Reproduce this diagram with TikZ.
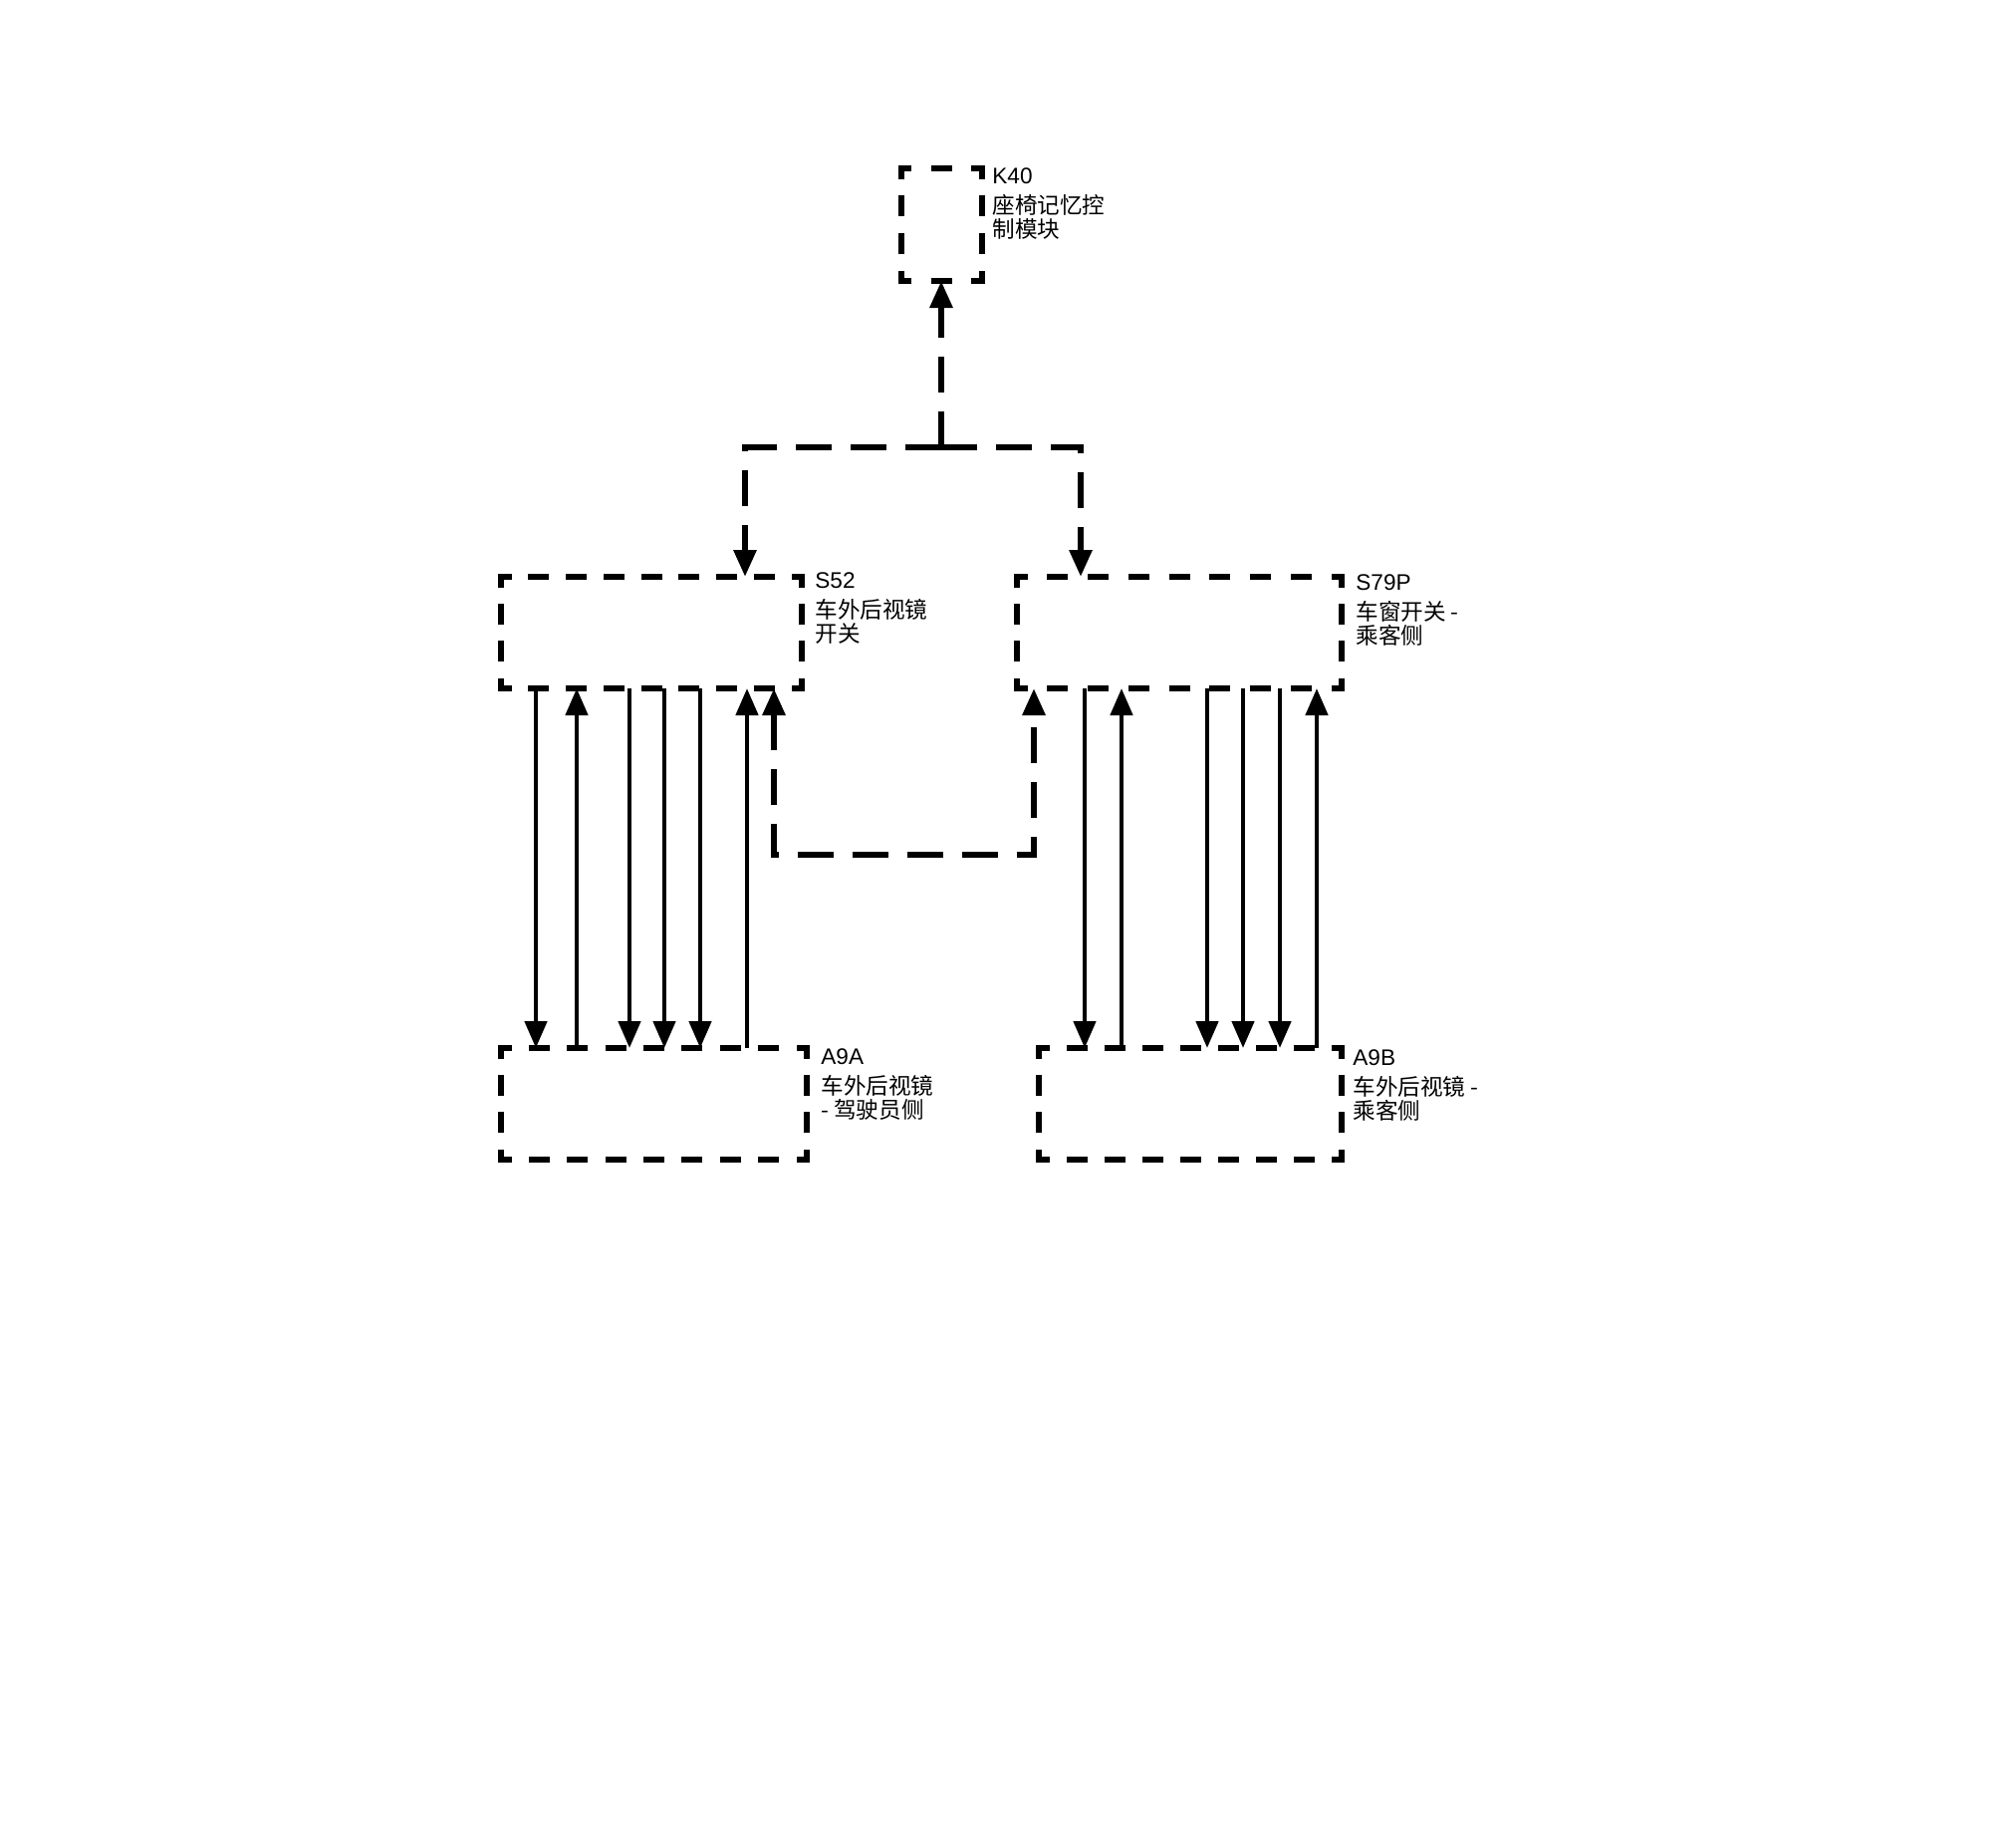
\documentclass[tikz,border=0pt]{standalone}
\usepackage{fontspec}
\setmainfont{Liberation Sans}
\newfontfamily\cjk{Noto Sans CJK SC}
\usetikzlibrary{arrows.meta}

% one dashed edge of a module outline: the dash period is fitted to the edge
% length so that both ends finish on half a dash (square corners)
\newcommand\edgedash[3]{%
  \pgfmathsetmacro\dshN{max(1,floor(#3/18.5))}%
  \pgfmathsetmacro\dshP{#3/\dshN}%
  \pgfmathsetmacro\dshG{\dshP-7.5}%
  \draw[framedash, dash pattern=on 7.5pt off \dshG pt, dash phase=3.75pt] (#1) -- (#2);}
% full outline of a module node; #2 width and #3 height in pt
\newcommand\unitframe[3]{%
  \edgedash{#1.south west}{#1.north west}{#3}%
  \edgedash{#1.north west}{#1.north east}{#2}%
  \edgedash{#1.north east}{#1.south east}{#3}%
  \edgedash{#1.south east}{#1.south west}{#2}}

\begin{document}
\begin{tikzpicture}[x=0.5pt,y=-0.5pt,
  unitbox/.style={inner sep=0pt, outer sep=0pt},
  framedash/.style={line width=3pt, line cap=rect},
  wireline/.style={line width=2.3pt},
  busline/.style={line width=3pt, dash pattern=on 18pt off 9.5pt},
  arrowtip/.style={-{Triangle[width=11pt,length=13.5pt]}},
  bothtips/.style={{Triangle[width=11pt,length=13.5pt]}-{Triangle[width=11pt,length=13.5pt]}},
  tagtext/.style={anchor=north west, inner sep=0pt, align=left, font=\fontsize{11.3pt}{12pt}\selectfont}
]
\fill[white] (0,0) rectangle (2007,1854);
\useasboundingbox (0,0) rectangle (2007,1854);

% modules
\node[unitbox, minimum width=40.5pt, minimum height=56.5pt] (K40)  at (945,225.5) {};
\node[unitbox, minimum width=151pt,  minimum height=56pt]   (S52)  at (654,635) {};
\node[unitbox, minimum width=163pt,  minimum height=56pt]   (S79P) at (1184,635) {};
\node[unitbox, minimum width=153.5pt,minimum height=56pt]   (A9A)  at (656.5,1108) {};
\node[unitbox, minimum width=152pt,  minimum height=56pt]   (A9B)  at (1195,1108) {};

\unitframe{K40}{40.5}{56.5}
\unitframe{S52}{151}{56}
\unitframe{S79P}{163}{56}
\unitframe{A9A}{153.5}{56}
\unitframe{A9B}{152}{56}

% module captions
\node[tagtext] (K40t)  at (996,168)   {K40\\[3pt]\cjk 座椅记忆控\\\cjk 制模块};
\node[tagtext] (S52t)  at (818,574)   {S52\\[3pt]\cjk 车外后视镜\\\cjk 开关};
\node[tagtext] (S79Pt) at (1361,576)  {S79P\\[3pt]\cjk 车窗开关 -\\\cjk 乘客侧};
\node[tagtext] (A9At)  at (824,1052)  {A9A\\[3pt]\cjk 车外后视镜\\\cjk - 驾驶员侧};
\node[tagtext] (A9Bt)  at (1358,1053) {A9B\\[3pt]\cjk 车外后视镜 -\\\cjk 乘客侧};

% data bus from the memory module to both switches
\coordinate (J)  at (945,449);
\coordinate (JL) at (748,449);
\coordinate (JR) at (1085,449);
\draw[busline,arrowtip] (J) -- (K40.south);
\draw[busline,arrowtip] (J) -- (JL) -- (JL |- S52.north);
\draw[busline,arrowtip] (J) -- (JR) -- (JR |- S79P.north);

% link between the two switches
\coordinate (LP1) at (777,858);
\coordinate (LP2) at (1038,858);
\draw[busline,bothtips] (S52.south -| LP1) -- (LP1) -- (LP2) -- (S79P.south -| LP2);

% driver side mirror wiring
\foreach \x [count=\i] in {538,632,667,703}
  \coordinate (DL\i) at (\x,0);
\foreach \x [count=\i] in {579,750}
  \coordinate (UL\i) at (\x,0);
\foreach \i in {1,...,4}
  \draw[wireline,arrowtip] (S52.south -| DL\i) -- (A9A.north -| DL\i);
\foreach \i in {1,2}
  \draw[wireline,arrowtip] (A9A.north -| UL\i) -- (S52.south -| UL\i);

% passenger side mirror wiring
\foreach \x [count=\i] in {1089,1212,1248,1285}
  \coordinate (DR\i) at (\x,0);
\foreach \x [count=\i] in {1126,1322}
  \coordinate (UR\i) at (\x,0);
\foreach \i in {1,...,4}
  \draw[wireline,arrowtip] (S79P.south -| DR\i) -- (A9B.north -| DR\i);
\foreach \i in {1,2}
  \draw[wireline,arrowtip] (A9B.north -| UR\i) -- (S79P.south -| UR\i);
\end{tikzpicture}
\end{document}
